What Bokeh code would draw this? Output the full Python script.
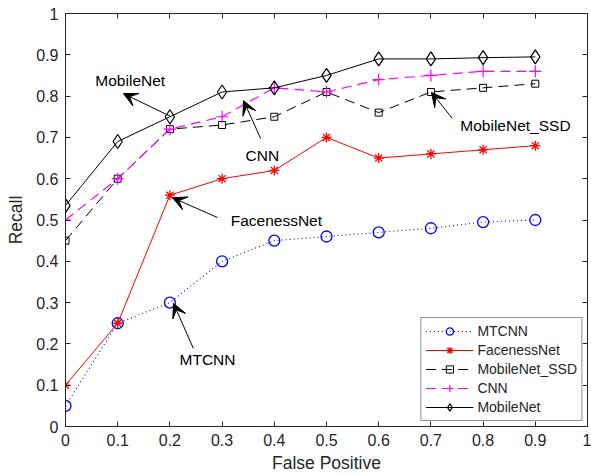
from bokeh.plotting import figure
from bokeh.models import (ColumnDataSource, Legend, LegendItem, LinearAxis, Arrow, VeeHead,
                          Range1d, FixedTicker, Label)
from bokeh.embed import file_html
from bokeh.resources import INLINE

# ---------------- data ----------------
fp = [0.0, 0.1, 0.2, 0.3, 0.4, 0.5, 0.6, 0.7, 0.8, 0.9]
mtcnn = [0.05, 0.25, 0.30, 0.40, 0.45, 0.46, 0.47, 0.48, 0.495, 0.50]
faceness = [0.10, 0.25, 0.56, 0.60, 0.62, 0.70, 0.65, 0.66, 0.67, 0.68]
mobilenet_ssd = [0.45, 0.60, 0.72, 0.73, 0.75, 0.81, 0.76, 0.81, 0.82, 0.83]
cnn = [0.50, 0.60, 0.72, 0.75, 0.82, 0.81, 0.84, 0.85, 0.86, 0.86]
mobilenet = [0.535, 0.69, 0.75, 0.81, 0.82, 0.85, 0.89, 0.89, 0.893, 0.895]

x_ticks = [0, 0.1, 0.2, 0.3, 0.4, 0.5, 0.6, 0.7, 0.8, 0.9, 1]
y_ticks = [0, 0.1, 0.2, 0.3, 0.4, 0.5, 0.6, 0.7, 0.8, 0.9, 1]

# annotations: label text, label position, arrow tail, arrow head
ann_text = ["MobileNet", "CNN", "FacenessNet", "MTCNN", "MobileNet_SSD"]
ann_tx = [0.124, 0.377, 0.404, 0.272, 0.862]
ann_ty = [0.838, 0.656, 0.499, 0.162, 0.729]
arr_x0 = [0.201, 0.374, 0.291, 0.245, 0.741]
arr_y0 = [0.751, 0.697, 0.506, 0.189, 0.746]
arr_x1 = [0.111, 0.341, 0.205, 0.207, 0.701]
arr_y1 = [0.806, 0.789, 0.554, 0.298, 0.809]

FONT = "Liberation Sans"
AX = "#262626"

p = figure(width=591, height=475, output_backend="svg", toolbar_location=None,
           x_range=Range1d(0, 1), y_range=Range1d(0, 1),
           min_border_left=65, min_border_right=4, min_border_top=13, min_border_bottom=49)
p.grid.visible = False
p.outline_line_color = AX
p.outline_line_width = 1
p.background_fill_color = "white"

for ax, ticks in ((p.xaxis[0], x_ticks), (p.yaxis[0], y_ticks)):
    ax.ticker = FixedTicker(ticks=ticks)
    ax.major_tick_in = 5
    ax.major_tick_out = 0
    ax.minor_tick_in = 0
    ax.minor_tick_out = 0
    ax.axis_line_color = AX
    ax.major_tick_line_color = AX
    ax.major_label_text_font = FONT
    ax.major_label_text_font_size = "16px"
    ax.major_label_text_color = AX
    ax.axis_label_text_font = FONT
    ax.axis_label_text_font_size = "17.5px"
    ax.axis_label_text_font_style = "normal"
    ax.axis_label_text_color = AX
    ax.major_label_standoff = 7

p.xaxis.axis_label = "False Positive"
p.yaxis.axis_label = "Recall"
p.xaxis.axis_label_standoff = 4
p.yaxis.axis_label_standoff = 7
p.xaxis.major_label_overrides = {0: "0", 1: "1"}
p.yaxis.major_label_overrides = {0: "0", 1: "1"}

# box ticks on top and right (no labels)
for loc, ticks in (("right", y_ticks), ("above", x_ticks)):
    a = LinearAxis(ticker=FixedTicker(ticks=ticks), major_tick_in=5, major_tick_out=0,
                   minor_tick_in=0, minor_tick_out=0, major_label_text_font_size="1px",
                   major_label_text_color=None, major_label_text_alpha=0,
                   major_label_standoff=0, axis_line_color=AX, major_tick_line_color=AX)
    p.add_layout(a, loc)

src = ColumnDataSource(dict(x=fp, mtcnn=mtcnn, faceness=faceness, ssd=mobilenet_ssd,
                            cnn=cnn, mobilenet=mobilenet))

items = []
l = p.line("x", "mtcnn", source=src, line_color="#0000ff", line_dash="1 3", line_width=1.1)
s = p.scatter("x", "mtcnn", source=src, marker="circle", size=11, fill_color=None,
              line_color="#0000ff", line_width=1.3)
items.append(LegendItem(label="MTCNN", renderers=[l, s]))

l = p.line("x", "faceness", source=src, line_color="#ff0000", line_width=1)
s = p.scatter("x", "faceness", source=src, marker="asterisk", size=10,
              line_color="#ff0000", line_width=1.3)
items.append(LegendItem(label="FacenessNet", renderers=[l, s]))

l = p.line("x", "ssd", source=src, line_color="black", line_dash="10 6", line_width=1)
s = p.scatter("x", "ssd", source=src, marker="square", size=7, fill_color=None,
              line_color="black", line_width=1)
items.append(LegendItem(label="MobileNet_SSD", renderers=[l, s]))

l = p.line("x", "cnn", source=src, line_color="#ff00ff", line_dash="10 6", line_width=1.2)
s = p.scatter("x", "cnn", source=src, marker="cross", size=12,
              line_color="#ff00ff", line_width=1.2)
items.append(LegendItem(label="CNN", renderers=[l, s]))

l = p.line("x", "mobilenet", source=src, line_color="black", line_width=1)
s = p.scatter("x", "mobilenet", source=src, marker="diamond", size=14, fill_color=None,
              line_color="black", line_width=1.2)
items.append(LegendItem(label="MobileNet", renderers=[l, s]))

legend = Legend(items=items, location="bottom_right", glyph_width=48, glyph_height=18,
                label_text_font=FONT, label_text_font_size="14px", label_text_color=AX,
                label_standoff=4, spacing=1, padding=4, margin=5,
                border_line_color=AX, border_line_width=1, background_fill_alpha=1,
                label_height=18)
p.add_layout(legend)

for i in range(len(ann_text)):
    p.add_layout(Arrow(end=VeeHead(size=14, fill_color="black", line_color="black"),
                       x_start=arr_x0[i], y_start=arr_y0[i], x_end=arr_x1[i], y_end=arr_y1[i],
                       line_color="black", line_width=1))
    p.add_layout(Label(x=ann_tx[i], y=ann_ty[i], text=ann_text[i], text_font=FONT,
                       text_font_size="15.5px", text_align="center", text_baseline="middle",
                       text_color="black"))

open("out.html", "w").write(file_html(p, INLINE))
